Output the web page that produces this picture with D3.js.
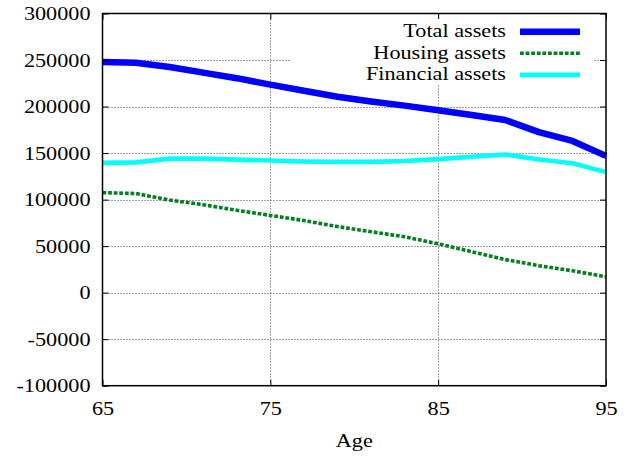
<!DOCTYPE html>
<html>
<head>
<meta charset="utf-8">
<script src="https://cdn.jsdelivr.net/npm/d3@7/dist/d3.min.js"></script>
<style>
  body { margin: 0; background: #fff; }
  svg { display: block; }
</style>
</head>
<body>
<svg id="chart" width="636" height="458"></svg>
<script>
// Asset holdings by age
const ages = [65, 67, 69, 71, 73, 75, 77, 79, 81, 83, 85, 87, 89, 91, 93, 95];
const totalAssets = [248000, 247000, 242500, 236500, 230500, 223500, 217000, 210500,
                     205500, 201000, 196000, 191000, 185500, 172500, 163000, 147000];
const housingAssets = [107500, 106500, 99500, 94500, 88500, 83000, 77500, 71000,
                       65500, 60000, 52500, 44000, 35500, 29000, 23500, 17000];
const financialAssets = [139500, 140000, 144000, 144000, 143000, 142000, 141000, 140500,
                         140500, 141500, 143500, 146000, 148500, 143000, 139000, 129500];
const seriesNames = ["Total assets", "Housing assets", "Financial assets"];
const xTicks = [65, 75, 85, 95];
const yTicks = [-100000, -50000, 0, 50000, 100000, 150000, 200000, 250000, 300000];

const svg = d3.select("#chart");
const plotLeft = 102.5, plotRight = 606, plotTop = 13.5, plotBottom = 385.7;
const textStretch = 1.17;
const serif = "'Liberation Serif', 'Times New Roman', Times, serif";
const fmt = d => String(d);

const x = d3.scaleLinear().domain([65, 95]).range([plotLeft, plotRight]);
const y = d3.scaleLinear().domain([-100000, 300000]).range([plotBottom, plotTop]);

function styleText(sel) {
  sel.style("font-family", serif).style("font-size", "19px").style("fill", "#000")
     .attr("font-family", null).attr("font-size", null).attr("fill", null);
}

// grid
const grid = svg.append("g")
  .attr("stroke", "#444").attr("stroke-width", 1).attr("stroke-dasharray", "1,2");
grid.selectAll("line.gy").data(yTicks.slice(1, -1)).join("line")
  .attr("x1", plotLeft).attr("x2", plotRight)
  .attr("y1", d => Math.round(y(d)) + 0.5).attr("y2", d => Math.round(y(d)) + 0.5);
grid.selectAll("line.gx").data(xTicks.slice(1, -1)).join("line")
  .attr("y1", plotTop).attr("y2", plotBottom)
  .attr("x1", d => Math.round(x(d)) + 0.5).attr("x2", d => Math.round(x(d)) + 0.5);

// series
const series = [
  { name: seriesNames[0], values: totalAssets, color: "#0000ff", width: 6.5, dash: null },
  { name: seriesNames[1], values: housingAssets, color: "#008020", width: 3.6, dash: "3.8,1.8" },
  { name: seriesNames[2], values: financialAssets, color: "#00ffff", width: 4.6, dash: null }
];
const line = d3.line().x(d => x(d[0])).y(d => y(d[1]));
series.forEach(s => {
  svg.append("path")
    .datum(ages.map((a, i) => [a, s.values[i]]))
    .attr("d", line)
    .attr("fill", "none")
    .attr("stroke", s.color)
    .attr("stroke-width", s.width)
    .attr("stroke-linejoin", "round")
    .attr("stroke-dasharray", s.dash);
});

// axes with inward ticks on all four sides
function styleAxis(g) {
  g.select(".domain").remove();
  g.selectAll(".tick line").attr("stroke", "#000").attr("stroke-width", 1);
}
const tickLen = 6;
svg.append("g").attr("transform", `translate(${plotLeft},0)`)
  .call(d3.axisLeft(y).tickValues(yTicks).tickSize(-tickLen).tickFormat(fmt))
  .call(styleAxis)
  .call(g => g.selectAll(".tick text")
    .attr("x", 0).attr("dy", "0.33em")
    .attr("transform", `translate(-12,0) scale(${textStretch},1)`)
    .call(styleText));
svg.append("g").attr("transform", `translate(${plotRight},0)`)
  .call(d3.axisRight(y).tickValues(yTicks).tickSize(-tickLen).tickFormat(""))
  .call(styleAxis);
svg.append("g").attr("transform", `translate(0,${plotBottom})`)
  .call(d3.axisBottom(x).tickValues(xTicks).tickSize(-tickLen).tickFormat(fmt))
  .call(styleAxis)
  .call(g => g.selectAll(".tick text")
    .attr("y", 0).attr("dy", null)
    .attr("transform", `translate(0,29) scale(${textStretch},1)`)
    .call(styleText));
svg.append("g").attr("transform", `translate(0,${plotTop})`)
  .call(d3.axisTop(x).tickValues(xTicks).tickSize(-tickLen).tickFormat(""))
  .call(styleAxis);

// key with opaque background
const key = svg.append("g");
key.append("rect")
  .attr("x", 290).attr("y", 19).attr("width", 303).attr("height", 66)
  .attr("fill", "#fff");
series.forEach((s, i) => {
  const cy = 31.7 + i * 21.6;
  key.append("text")
    .attr("text-anchor", "end")
    .attr("transform", `translate(506,${cy + 5.5}) scale(${textStretch},1)`)
    .text(s.name)
    .call(styleText);
  key.append("line")
    .attr("x1", 520).attr("x2", 580).attr("y1", cy).attr("y2", cy)
    .attr("stroke", s.color).attr("stroke-width", s.width)
    .attr("stroke-dasharray", s.dash);
});

// border
svg.append("rect")
  .attr("x", plotLeft).attr("y", plotTop)
  .attr("width", plotRight - plotLeft).attr("height", plotBottom - plotTop)
  .attr("fill", "none").attr("stroke", "#000").attr("stroke-width", 1.5);

// x-axis title
svg.append("text")
  .attr("text-anchor", "middle")
  .attr("transform", `translate(${(plotLeft + plotRight) / 2},447) scale(${textStretch},1)`)
  .text("Age")
  .call(styleText);
</script>
</body>
</html>
